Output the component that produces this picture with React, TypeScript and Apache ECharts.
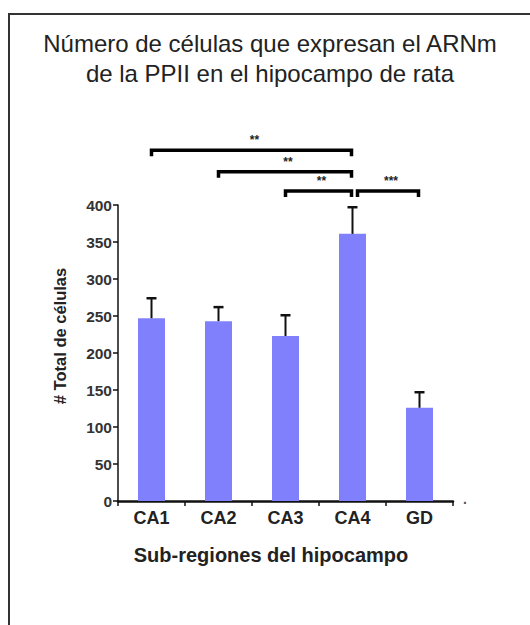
import React, { useEffect, useRef } from "react";
import * as echarts from "echarts";

const categories = ["CA1", "CA2", "CA3", "CA4", "GD"];
const means = [247, 243, 223, 361, 126];
const errors = [27, 19, 28, 36, 21];
const yTicks = [0, 50, 100, 150, 200, 250, 300, 350, 400];
const brackets = [
  { from: 0, to: 3, level: 474, label: "**" },
  { from: 1, to: 3, level: 445, label: "**" },
  { from: 2, to: 3, level: 419, label: "**" },
  { from: 3, to: 4, level: 419, label: "***" },
];

const FONT = "'Liberation Sans', Arial, Helvetica, sans-serif";

export default function App() {
  const ref = useRef<HTMLDivElement>(null);
  useEffect(() => {
    if (!ref.current) return;
    const chart = echarts.init(ref.current, null, { renderer: "svg" });
    const option: any = {
      animation: false,
      backgroundColor: "#ffffff",
      title: [
        {
          text: "Número de células que expresan el ARNm\nde la PPII en el hipocampo de rata",
          left: 265,
          top: 23,
          textAlign: "center",
          textStyle: {
            fontFamily: FONT,
            fontSize: 24,
            fontWeight: "normal",
            color: "#222",
            lineHeight: 30,
          },
        },
        {
          text: "Sub-regiones del hipocampo",
          left: 266,
          top: 540,
          textAlign: "center",
          textStyle: {
            fontFamily: FONT,
            fontSize: 20,
            fontWeight: "bold",
            color: "#222",
          },
        },
      ],
      graphic: [
        {
          type: "rect",
          shape: { x: 9, y: 14, width: 620, height: 700 },
          style: { fill: "none", stroke: "#333", lineWidth: 2 },
          silent: true,
        },
        {
          type: "text",
          x: 463,
          y: 492,
          style: { text: ".", font: `bold 14px ${FONT}`, fill: "#555" },
        },
      ],
      grid: { left: 118, top: 205, width: 335, height: 296 },
      xAxis: {
        type: "category",
        data: categories,
        axisLine: { lineStyle: { color: "#111", width: 2.5 } },
        axisTick: { show: true, length: 5, lineStyle: { color: "#111", width: 1.5 } },
        axisLabel: {
          fontFamily: FONT,
          fontSize: 18,
          fontWeight: "bold",
          color: "#222",
          margin: 8,
        },
      },
      yAxis: {
        type: "value",
        min: 0,
        max: 400,
        interval: 50,
        name: "# Total de células",
        nameLocation: "middle",
        nameGap: 50,
        nameTextStyle: {
          fontFamily: FONT,
          fontSize: 16.5,
          fontWeight: "bold",
          color: "#222",
          padding: [0, 0, 0, 34],
        },
        splitLine: { show: false },
        axisLine: { show: true, lineStyle: { color: "#111", width: 1.5 } },
        axisTick: { show: true, length: 5, lineStyle: { color: "#111", width: 1.5 } },
        axisLabel: {
          fontFamily: FONT,
          fontSize: 15.5,
          fontWeight: "bold",
          color: "#333",
          margin: 6,
          formatter: (v: number) => (yTicks.includes(v) ? String(v) : ""),
        },
      },
      series: [
        {
          type: "bar",
          data: means,
          barWidth: 27,
          itemStyle: { color: "#8080fc" },
          z: 2,
        },
        {
          type: "custom",
          z: 3,
          clip: false,
          data: categories.map((_, i) => [i, means[i], errors[i]]),
          encode: { x: 0, y: 1 },
          renderItem: (params: any, api: any) => {
            const i = api.value(0);
            const v = api.value(1);
            const e = api.value(2);
            const base = api.coord([i, v]);
            const top = api.coord([i, v + e]);
            return {
              type: "group",
              children: [
                {
                  type: "line",
                  shape: { x1: base[0], y1: base[1], x2: top[0], y2: top[1] },
                  style: { stroke: "#111", lineWidth: 2 },
                },
                {
                  type: "line",
                  shape: { x1: top[0] - 5, y1: top[1], x2: top[0] + 5, y2: top[1] },
                  style: { stroke: "#111", lineWidth: 2.5 },
                },
              ],
            };
          },
        },
        {
          type: "custom",
          z: 4,
          clip: false,
          data: brackets.map((b) => [b.from, b.to, b.level]),
          encode: { x: [0, 1], y: 2 },
          renderItem: (params: any, api: any) => {
            const b = brackets[params.dataIndex];
            const p1 = api.coord([b.from, b.level]);
            const p2 = api.coord([b.to, b.level]);
            const startShared = brackets.some((o) => o.to === b.from && o.level === b.level);
            const x1 = p1[0] + (startShared ? 5 : 0);
            const x2 = p2[0] - 1;
            const y = p1[1];
            return {
              type: "group",
              children: [
                {
                  type: "polyline",
                  shape: {
                    points: [
                      [x1, y + 6],
                      [x1, y],
                      [x2, y],
                      [x2, y + 6],
                    ],
                  },
                  style: { stroke: "#000", lineWidth: 3.5, fill: "none" },
                },
                {
                  type: "text",
                  x: (x1 + x2) / 2 + 3,
                  y: y - 10,
                  style: {
                    text: b.label,
                    align: "center",
                    verticalAlign: "middle",
                    font: `bold 12px ${FONT}`,
                    fill: "#222",
                  },
                },
              ],
            };
          },
        },
      ],
    };
    chart.setOption(option);
    return () => chart.dispose();
  }, []);
  return (
    <div
      ref={ref}
      style={{ position: "absolute", left: 0, top: 0, width: 530, height: 625 }}
    />
  );
}
